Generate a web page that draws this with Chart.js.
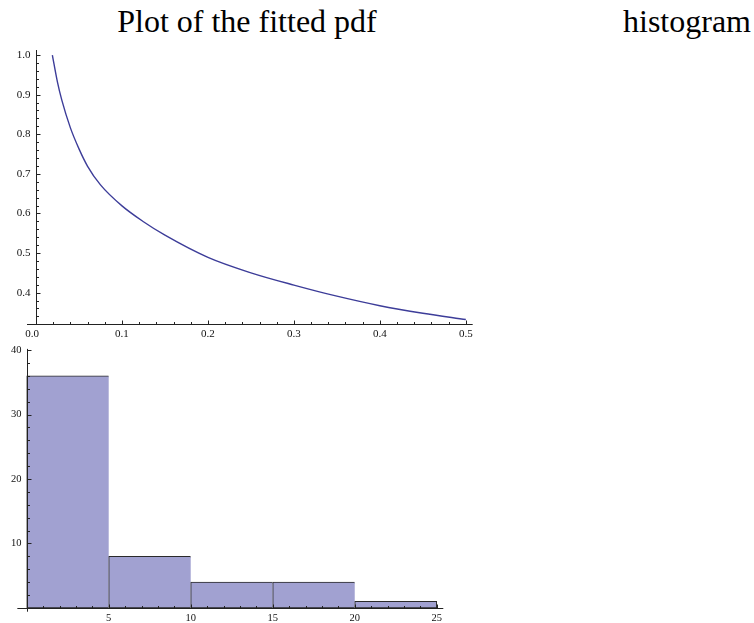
<!DOCTYPE html>
<html>
<head>
<meta charset="utf-8">
<script src="https://cdn.jsdelivr.net/npm/chart.js@4.4.0/dist/chart.umd.min.js"></script>
<style>
html,body{margin:0;padding:0;background:#fff;}
#wrap{position:relative;width:754px;height:623px;overflow:hidden;background:#fff;}
canvas{position:absolute;left:0;top:0;}
.title{position:absolute;top:6px;font-family:"Liberation Serif","Times New Roman",serif;font-size:32px;line-height:31px;color:#000;white-space:nowrap;transform:translateX(-50%);}
</style>
</head>
<body>
<div id="wrap">
  <div class="title" style="left:247px">Plot of the fitted pdf</div>
  <div class="title" style="left:687px">histogram</div>
  <canvas id="pdf" width="754" height="623"></canvas>
  <canvas id="hist" width="754" height="623"></canvas>
</div>
<script>
// ---- fitted pdf ----
const pdfX = [0.019, 0.025, 0.03, 0.04, 0.05, 0.06, 0.075, 0.1, 0.125, 0.15, 0.2, 0.25, 0.3, 0.35, 0.4, 0.45, 0.5];
const pdfY = [1.0, 0.931, 0.886, 0.816, 0.763, 0.719, 0.672, 0.619, 0.579, 0.545, 0.489, 0.45, 0.419, 0.391, 0.367, 0.348, 0.332];
const pdfXTicks = [0.0, 0.1, 0.2, 0.3, 0.4, 0.5];
const pdfXTickLabels = ["0.0", "0.1", "0.2", "0.3", "0.4", "0.5"];
const pdfYTicks = [0.4, 0.5, 0.6, 0.7, 0.8, 0.9, 1.0];
const pdfYTickLabels = ["0.4", "0.5", "0.6", "0.7", "0.8", "0.9", "1.0"];

// ---- histogram ----
const binEdges = [0, 5, 10, 15, 20, 25];
const binCounts = [36, 8, 4, 4, 1];
const histXTicks = [5, 10, 15, 20, 25];
const histXTickLabels = ["5", "10", "15", "20", "25"];
const histYTicks = [10, 20, 30, 40];
const histYTickLabels = ["10", "20", "30", "40"];

const axesPlugin = {
  id: 'mmaAxes',
  afterDatasetsDraw(chart, args, o) {
    if (!o || !o.enabled) return;
    const ctx = chart.ctx, xs = chart.scales.x, ys = chart.scales.y, ca = chart.chartArea;
    const ox = Math.round(xs.getPixelForValue(o.originX)) + 0.5;
    const oy = Math.round(ys.getPixelForValue(o.originY)) + 0.5;
    ctx.save();
    ctx.strokeStyle = o.color; ctx.lineWidth = 1;
    ctx.beginPath();
    ctx.moveTo(ca.left, oy); ctx.lineTo(ca.right, oy);
    ctx.moveTo(ox, ca.top); ctx.lineTo(ox, o.yAxisBottom === 'area' ? ca.bottom : oy);
    const near = (a, list, tol) => list.some(v => Math.abs(v - a) < tol);
    for (const v of o.xMajor) {
      const p = Math.round(xs.getPixelForValue(v)) + 0.5;
      if (Math.abs(p - ox) < 1) continue;
      ctx.moveTo(p, oy); ctx.lineTo(p, oy - 4);
    }
    for (let k = Math.ceil(xs.min / o.xMinor); k * o.xMinor <= xs.max + 1e-9; k++) {
      const v = k * o.xMinor;
      if (near(v, o.xMajor, o.xMinor / 10)) continue;
      const p = Math.round(xs.getPixelForValue(v)) + 0.5;
      if (Math.abs(p - ox) < 1) continue;
      ctx.moveTo(p, oy); ctx.lineTo(p, oy - 2.5);
    }
    for (const v of o.yMajor) {
      const p = Math.round(ys.getPixelForValue(v)) + 0.5;
      if (Math.abs(p - oy) < 1) continue;
      ctx.moveTo(ox, p); ctx.lineTo(ox + 4, p);
    }
    for (let k = Math.ceil(ys.min / o.yMinor - 1e-9); k * o.yMinor <= ys.max + 1e-9; k++) {
      const v = k * o.yMinor;
      if (near(v, o.yMajor, o.yMinor / 10)) continue;
      const p = Math.round(ys.getPixelForValue(v)) + 0.5;
      if (Math.abs(p - oy) < 1.5) continue;
      ctx.moveTo(ox, p); ctx.lineTo(ox + 2.5, p);
    }
    ctx.stroke();
    ctx.fillStyle = o.labelColor;
    ctx.font = o.font;
    ctx.textAlign = 'center'; ctx.textBaseline = 'alphabetic';
    o.xMajor.forEach((v, i) => {
      const p = xs.getPixelForValue(v) + (o.xLabelShift && o.xLabelShift[i] || 0);
      ctx.fillText(o.xLabels[i], p, oy + o.xLabelDy);
    });
    ctx.textAlign = 'right'; ctx.textBaseline = 'middle';
    o.yMajor.forEach((v, i) => {
      ctx.fillText(o.yLabels[i], ox - o.yLabelDx, ys.getPixelForValue(v));
    });
    ctx.restore();
  }
};
Chart.register(axesPlugin);

new Chart(document.getElementById('pdf'), {
  type: 'scatter',
  data: {
    datasets: [{
      data: pdfX.map((x, i) => ({ x: x, y: pdfY[i] })),
      showLine: true,
      borderColor: '#3D3D99',
      borderWidth: 1.4,
      pointRadius: 0,
      cubicInterpolationMode: 'monotone',
      fill: false
    }]
  },
  options: {
    responsive: false,
    animation: false,
    devicePixelRatio: 1,
    layout: { padding: { left: 27, right: 281.3, top: 50, bottom: 298.7 } },
    scales: {
      x: { type: 'linear', min: -0.0105, max: 0.508, display: false },
      y: { type: 'linear', min: 0.32, max: 1.0127, display: false }
    },
    plugins: {
      legend: { display: false },
      tooltip: { enabled: false },
      mmaAxes: {
        enabled: true, originX: 0, originY: 0.32, color: '#222', labelColor: '#111',
        font: '11px "Liberation Serif", "Times New Roman", serif',
        xMajor: pdfXTicks, xLabels: pdfXTickLabels, xMinor: 0.02,
        xLabelShift: [-4, 0, 0, 0, 0, 0],
        yMajor: pdfYTicks, yLabels: pdfYTickLabels, yMinor: 0.02,
        xLabelDy: 12, yLabelDx: 6, yAxisBottom: 'origin'
      }
    }
  }
});

const lastBin = binCounts.length - 1;
new Chart(document.getElementById('hist'), {
  type: 'bar',
  data: {
    datasets: [{
      data: binCounts.map((c, i) => ({ x: (binEdges[i] + binEdges[i + 1]) / 2, y: c })),
      backgroundColor: '#A1A1D1',
      borderColor: '#2a2a2a',
      borderWidth: (c) => ({ top: 1, left: 1, bottom: 1, right: c.dataIndex === lastBin ? 1 : 0 }),
      borderSkipped: false,
      barPercentage: 1,
      categoryPercentage: 1
    }]
  },
  options: {
    responsive: false,
    animation: false,
    devicePixelRatio: 1,
    layout: { padding: { left: 17.35, right: 310.7, top: 348.9, bottom: 11.3 } },
    scales: {
      x: { type: 'linear', min: -0.57, max: 25.4, display: false, offset: false,
           afterBuildTicks: (s) => { s.ticks = []; } },
      y: { type: 'linear', min: -0.6, max: 40.2, display: false }
    },
    plugins: {
      legend: { display: false },
      tooltip: { enabled: false },
      mmaAxes: {
        enabled: true, originX: 0, originY: 0, color: '#222', labelColor: '#111',
        font: '10.5px "Liberation Serif", "Times New Roman", serif',
        xMajor: histXTicks, xLabels: histXTickLabels, xMinor: 1,
        yMajor: histYTicks, yLabels: histYTickLabels, yMinor: 2,
        xLabelDy: 12, yLabelDx: 6, yAxisBottom: 'area'
      }
    }
  }
});
</script>
</body>
</html>
